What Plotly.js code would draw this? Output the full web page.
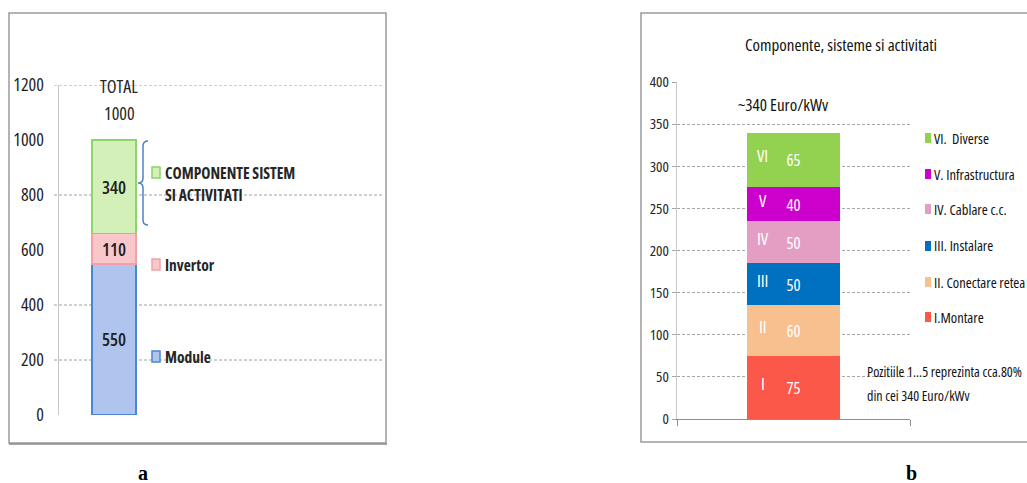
<!DOCTYPE html>
<html>
<head>
<meta charset="utf-8">
<script src="https://cdn.plot.ly/plotly-3.0.1.min.js"></script>
<style>
html,body{margin:0;padding:0;background:#fff;}
#chart{width:1027px;height:483px;}
svg text{font-stretch:75% !important;}
</style>
</head>
<body>
<div id="chart"></div>
<script>
// ---- data ----
const leftNames = ['Module', 'Invertor', 'COMPONENTE SISTEM<br>SI ACTIVITATI'];
const leftValues = [550, 110, 340];
const leftTicks = [0, 200, 400, 600, 800, 1000, 1200];
const leftGrid = [200, 400, 800, 1200];

const rightNumerals = ['I', 'II', 'III', 'IV', 'V', 'VI'];
const rightNames = ['I.Montare', 'II. Conectare retea', 'III. Instalare', 'IV. Cablare c.c.', 'V. Infrastructura', 'VI.  Diverse'];
const rightValues = [75, 60, 50, 50, 40, 65];
const rightTicks = [0, 50, 100, 150, 200, 250, 300, 350, 400];
const rightTitle = 'Componente, sisteme si activitati';
const rightNote = ['Pozitiile 1...5 reprezinta cca.80%', 'din cei 340 Euro/kWv'];

// ---- style ----
const W = 1027, H = 483;
const PX = x => x / W, PY = y => 1 - y / H;
const FONT = '"Open Sans", "Noto Sans", sans-serif';
const SERIF = '"Liberation Serif", "DejaVu Serif", serif';
const leftFill = ['#b0c5ee', '#f9c6ca', '#d3f0b8'];
const leftLine = ['#4a86d4', '#f0a2a9', '#8fd466'];
const rightFill = ['#fb5849', '#f9c08f', '#0070c0', '#e49ec4', '#cc00cc', '#93d150'];

const traces = [];
leftValues.forEach((v, i) => {
  traces.push({
    type: 'bar', x: [0], y: [v], width: 0.6, xaxis: 'x', yaxis: 'y',
    marker: {color: leftFill[i], line: {color: leftLine[i], width: 1.5}},
    text: [String(v)], textposition: 'inside', insidetextanchor: 'middle',
    textangle: 0, constraintext: 'none',
    textfont: {family: FONT, size: 18, color: '#1e1e1e', weight: 600},
    hoverinfo: 'skip', showlegend: false
  });
});
rightValues.forEach((v, i) => {
  traces.push({
    type: 'bar', x: [0], y: [v], width: 0.6, xaxis: 'x2', yaxis: 'y2',
    marker: {color: rightFill[i], line: {width: 0}},
    text: [String(v)], textposition: 'inside', insidetextanchor: 'middle',
    textangle: 0, constraintext: 'none',
    textfont: {family: FONT, size: 16.5, color: '#ffffff'},
    hoverinfo: 'skip', showlegend: false
  });
});

const shapes = [];
const annotations = [];

// panel frames
shapes.push({type: 'rect', xref: 'paper', yref: 'paper', x0: PX(9), x1: PX(386), y0: PY(443), y1: PY(13),
  line: {color: '#9a9a9a', width: 1.5}, layer: 'below'});
shapes.push({type: 'line', xref: 'paper', yref: 'paper', x0: PX(9), x1: PX(387), y0: PY(444), y1: PY(444),
  line: {color: '#8a8a8a', width: 1.5}, layer: 'below'});
shapes.push({type: 'rect', xref: 'paper', yref: 'paper', x0: PX(641), x1: PX(1030), y0: PY(442), y1: PY(13),
  line: {color: '#9a9a9a', width: 1.5}, layer: 'below'});

// left gridlines (only some levels are drawn in the original)
leftGrid.forEach(v => {
  shapes.push({type: 'line', xref: 'paper', yref: 'y', x0: PX(54), x1: PX(382), y0: v, y1: v,
    line: {color: '#a0a0a0', width: 1, dash: '3px,2px'}, layer: 'below'});
});

// total label (left)
const leftTotal = leftValues.reduce((a, b) => a + b, 0);
annotations.push({xref: 'paper', yref: 'paper', x: PX(119), y: PY(86), xanchor: 'center', yanchor: 'middle',
  text: 'TOTAL', showarrow: false, font: {family: FONT, size: 18, color: '#262626'}});
annotations.push({xref: 'paper', yref: 'paper', x: PX(119), y: PY(113), xanchor: 'center', yanchor: 'middle',
  text: String(leftTotal), showarrow: false, font: {family: FONT, size: 18, color: '#262626'}});

// brace for component group
const bx = 143, bt = 141, bm = 183, bb = 225;
const bracePath = [
  'M', PX(bx + 5), PY(bt), 'Q', PX(bx), PY(bt), PX(bx), PY(bt + 5),
  'L', PX(bx), PY(bm - 5), 'Q', PX(bx), PY(bm), PX(bx - 5), PY(bm),
  'Q', PX(bx), PY(bm), PX(bx), PY(bm + 5),
  'L', PX(bx), PY(bb - 5), 'Q', PX(bx), PY(bb), PX(bx + 5), PY(bb)
].join(' ');
shapes.push({type: 'path', xref: 'paper', yref: 'paper', path: bracePath, line: {color: '#4f81c9', width: 1.5}});

// left legend
const leftLegY = [357, 265, 173];
const legFont = {family: FONT, size: 15.5, color: '#262626', weight: 'bold'};
leftNames.forEach((n, i) => {
  const y = leftLegY[i];
  shapes.push({type: 'rect', xref: 'paper', yref: 'paper', x0: PX(152), x1: PX(160), y0: PY(y + 5), y1: PY(y - 6),
    fillcolor: leftFill[i], line: {color: leftLine[i], width: 1.5}});
  const lines = n.split('<br>');
  lines.forEach((t, k) => {
    annotations.push({xref: 'paper', yref: 'paper', x: PX(163), y: PY(y + k * 22), xanchor: 'left', yanchor: 'middle',
      text: t, showarrow: false, font: legFont});
  });
});

// right title and total
annotations.push({xref: 'paper', yref: 'paper', x: PX(841), y: PY(44), xanchor: 'center', yanchor: 'middle',
  text: rightTitle, showarrow: false, font: {family: FONT, size: 17, color: '#111'}});
const rightTotal = rightValues.reduce((a, b) => a + b, 0);
annotations.push({xref: 'paper', yref: 'paper', x: PX(783), y: PY(104), xanchor: 'center', yanchor: 'middle',
  text: '~' + rightTotal + ' Euro/kWv', showarrow: false, font: {family: FONT, size: 17, color: '#111'}});

// roman numerals inside right bar
let cum = 0;
rightValues.forEach((v, i) => {
  annotations.push({xref: 'x2', yref: 'y2', x: -0.197, y: cum + v / 2, yshift: 4, xanchor: 'center', yanchor: 'middle',
    text: rightNumerals[i], showarrow: false, font: {family: FONT, size: 17, color: '#ffffff'}});
  cum += v;
});

// right legend
const rightLegY = [317, 282, 246, 209, 174, 138];
rightNames.forEach((n, i) => {
  const y = rightLegY[i];
  shapes.push({type: 'rect', xref: 'paper', yref: 'paper', x0: PX(925), x1: PX(931), y0: PY(y + 5), y1: PY(y - 5),
    fillcolor: rightFill[i], line: {width: 0}});
  annotations.push({xref: 'paper', yref: 'paper', x: PX(932), y: PY(y), xanchor: 'left', yanchor: 'middle',
    text: n, showarrow: false, font: {family: FONT, size: 14.5, color: '#111'}});
});

// note
rightNote.forEach((t, k) => {
  annotations.push({xref: 'paper', yref: 'paper', x: PX(865), y: PY(371 + k * 24), xanchor: 'left', yanchor: 'middle',
    text: t, showarrow: false, font: {family: FONT, size: 14, color: '#111'}});
});

// captions
annotations.push({xref: 'paper', yref: 'paper', x: PX(143), y: PY(473), xanchor: 'center', yanchor: 'middle', text: 'a', showarrow: false,
  font: {family: SERIF, size: 20, color: '#000', weight: 'bold'}});
annotations.push({xref: 'paper', yref: 'paper', x: PX(911), y: PY(473), xanchor: 'center', yanchor: 'middle', text: 'b', showarrow: false,
  font: {family: SERIF, size: 20, color: '#000', weight: 'bold'}});

const layout = {
  width: W, height: H,
  margin: {l: 0, r: 0, t: 0, b: 0},
  paper_bgcolor: '#ffffff', plot_bgcolor: 'rgba(0,0,0,0)',
  barmode: 'stack', showlegend: false,
  font: {family: FONT, color: '#262626'},
  xaxis: {domain: [PX(59), PX(382)], range: [-0.75, 3.655], visible: false, fixedrange: true},
  yaxis: {domain: [PY(415), PY(85)], range: [0, 1200], tickvals: leftTicks, showgrid: false, zeroline: false,
    showline: true, linecolor: '#c8c8c8', linewidth: 1.5, ticks: '', ticklabelstandoff: 10,
    tickfont: {family: FONT, size: 18, color: '#1e1e1e'}, fixedrange: true},
  xaxis2: {domain: [PX(677), PX(910)], range: [-0.7516, 0.7516], anchor: 'y2', showline: true, linecolor: '#8c8c8c',
    linewidth: 1.2, tickvals: [-0.7516, 0.7516], ticks: 'outside', ticklen: 6, tickcolor: '#8c8c8c',
    showticklabels: false, showgrid: false, zeroline: false, fixedrange: true},
  yaxis2: {domain: [PY(419), PY(82)], range: [0, 400], anchor: 'x2', tickvals: rightTicks, showgrid: true,
    gridcolor: '#a6a6a6', griddash: '3px,2px', gridwidth: 1, zeroline: false, showline: true, linecolor: '#c8c8c8',
    linewidth: 1.2, ticks: 'outside', ticklen: 4, tickcolor: '#a6a6a6',
    tickfont: {family: FONT, size: 15, color: '#262626'}, fixedrange: true},
  shapes: shapes,
  annotations: annotations
};

Plotly.newPlot('chart', traces, layout, {displayModeBar: false, staticPlot: true});
</script>
</body>
</html>
